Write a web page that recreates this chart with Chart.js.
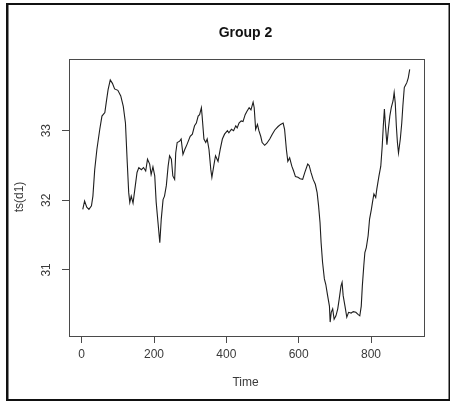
<!DOCTYPE html>
<html>
<head>
<meta charset="utf-8">
<script src="https://cdn.jsdelivr.net/npm/chart.js@4/dist/chart.umd.min.js"></script>
<style>
  html, body { margin: 0; padding: 0; background: #fff; }
  canvas { display: block; }
</style>
</head>
<body>
<canvas id="c" width="450" height="402"></canvas>
<script>
// ---- data ----
const chartTitle = "Group 2";
const xTitle = "Time";
const yTitle = "ts(d1)";
const xTicks = [0, 200, 400, 600, 800];
const yTicks = [31, 32, 33];
const times = [
  3, 8, 14, 20, 27, 31, 36, 42, 50, 56, 64, 68, 73, 79, 85, 91, 100, 108, 115, 121,
  126, 130, 133, 137, 142, 147, 153, 158, 165, 171, 177, 182, 188, 192, 197, 202, 206, 211, 216, 220,
  225, 229, 234, 239, 243, 248, 252, 257, 260, 264, 271, 275, 280, 285, 291, 300, 306, 312, 317, 322,
  326, 331, 333, 338, 343, 347, 352, 357, 360, 366, 370, 377, 383, 389, 395, 403, 407, 414, 420, 426,
  430, 435, 441, 446, 452, 457, 463, 468, 474, 477, 481, 486, 490, 495, 499, 506, 512, 520, 527, 534,
  543, 550, 557, 561, 566, 570, 575, 581, 586, 591, 598, 604, 611, 617, 625, 629, 634, 640, 646, 651,
  655, 659, 662, 666, 671, 675, 680, 685, 687, 690, 694, 698, 703, 708, 712, 717, 720, 723, 728, 733,
  738, 745, 751, 758, 764, 769, 773, 776, 780, 783, 787, 792, 796, 801, 804, 808, 813, 816, 822, 827,
  831, 834, 837, 840, 844, 848, 852, 856, 861, 864, 867, 870, 873, 876, 881, 885, 888, 892, 896, 899,
  903, 907
];
const values = [
  31.87, 31.99, 31.90, 31.87, 31.92, 32.06, 32.44, 32.73, 33.02, 33.21, 33.26, 33.41, 33.59, 33.73, 33.68, 33.60, 33.58, 33.50, 33.35, 33.11,
  32.54, 32.11, 31.97, 32.06, 31.96, 32.16, 32.40, 32.47, 32.44, 32.47, 32.42, 32.59, 32.52, 32.37, 32.48, 32.35, 31.97, 31.68, 31.39, 31.73,
  32.01, 32.06, 32.21, 32.49, 32.64, 32.59, 32.35, 32.30, 32.68, 32.83, 32.85, 32.88, 32.66, 32.73, 32.80, 32.92, 32.95, 33.07, 33.11, 33.21,
  33.23, 33.33, 33.21, 32.88, 32.83, 32.88, 32.73, 32.44, 32.33, 32.52, 32.64, 32.56, 32.73, 32.88, 32.95, 33.00, 32.97, 33.02, 33.00, 33.07,
  33.04, 33.11, 33.14, 33.13, 33.23, 33.28, 33.33, 33.30, 33.41, 33.33, 33.02, 33.09, 33.00, 32.92, 32.83, 32.79, 32.82, 32.88, 32.95, 33.01,
  33.06, 33.09, 33.11, 33.02, 32.73, 32.56, 32.61, 32.49, 32.42, 32.34, 32.33, 32.31, 32.30, 32.40, 32.52, 32.50, 32.40, 32.30, 32.23, 32.11,
  31.92, 31.68, 31.39, 31.11, 30.87, 30.79, 30.63, 30.48, 30.25, 30.39, 30.44, 30.29, 30.34, 30.44, 30.58, 30.77, 30.82, 30.63, 30.48, 30.32,
  30.39, 30.38, 30.40, 30.39, 30.36, 30.34, 30.48, 30.77, 31.06, 31.25, 31.32, 31.49, 31.73, 31.87, 31.97, 32.09, 32.04, 32.16, 32.35, 32.49,
  32.78, 33.07, 33.31, 33.07, 32.80, 33.02, 33.21, 33.33, 33.43, 33.55, 33.40, 33.07, 32.83, 32.68, 32.88, 33.11, 33.35, 33.62, 33.66, 33.69,
  33.76, 33.88
];

const points = times.map((t, i) => ({ x: t, y: values[i] }));

const FONT = "'Liberation Sans', Arial, Helvetica, sans-serif";

const decorPlugin = {
  id: 'decor',
  beforeDraw(chart) {
    const ctx = chart.ctx;
    ctx.save();
    ctx.fillStyle = '#ffffff';
    ctx.fillRect(0, 0, chart.width, chart.height);
    ctx.restore();
  },
  afterDraw(chart) {
    const ctx = chart.ctx;
    const a = chart.chartArea;
    const ys = chart.scales.y;
    ctx.save();
    // plot box
    ctx.strokeStyle = '#4a4a4a';
    ctx.lineWidth = 1;
    ctx.strokeRect(Math.round(a.left) + 0.5, Math.round(a.top) + 0.5,
                   Math.round(a.right - a.left), Math.round(a.bottom - a.top));
    // outer frame
    ctx.fillStyle = '#111';
    ctx.fillRect(6, 3, 2.5, 398);     // left
    ctx.fillRect(6, 3, 444, 2);       // top
    ctx.fillRect(6, 399, 444, 2);     // bottom
    ctx.fillRect(448.5, 3, 1.5, 398); // right
    // title
    ctx.fillStyle = '#111';
    ctx.font = 'bold 14px ' + FONT;
    ctx.textAlign = 'center';
    ctx.textBaseline = 'middle';
    ctx.fillText(chartTitle, (a.left + a.right) / 2 - 1, 33);
    // x axis title
    ctx.fillStyle = '#3a3a3a';
    ctx.font = '12px ' + FONT;
    ctx.fillText(xTitle, (a.left + a.right) / 2 - 1, 383);
    // y tick labels (rotated, R style)
    yTicks.forEach(v => {
      const py = ys.getPixelForValue(v);
      ctx.save();
      ctx.translate(47, py);
      ctx.rotate(-Math.PI / 2);
      ctx.fillText(String(v), 0, 0);
      ctx.restore();
    });
    // y axis title
    ctx.save();
    ctx.translate(20, (a.top + a.bottom) / 2 - 0.5);
    ctx.rotate(-Math.PI / 2);
    ctx.fillText(yTitle, 0, 0);
    ctx.restore();
    ctx.restore();
  }
};

new Chart(document.getElementById('c'), {
  type: 'line',
  data: {
    datasets: [{
      data: points,
      borderColor: '#1e1e1e',
      borderWidth: 1.1,
      pointRadius: 0,
      tension: 0,
      fill: false
    }]
  },
  options: {
    responsive: false,
    animation: false,
    devicePixelRatio: 1,
    layout: { padding: { left: 0, right: 26, top: 59, bottom: 0 } },
    plugins: {
      legend: { display: false },
      tooltip: { enabled: false },
      title: { display: false }
    },
    scales: {
      x: {
        type: 'linear',
        min: -35.1,
        max: 946.5,
        afterBuildTicks: s => { s.ticks = xTicks.map(v => ({ value: v })); },
        afterFit: s => { s.height = 66; },
        border: { display: false },
        grid: {
          display: true,
          drawOnChartArea: false,
          drawTicks: true,
          tickLength: 7,
          tickColor: '#4a4a4a',
          color: '#4a4a4a',
          lineWidth: 1
        },
        ticks: {
          color: '#3a3a3a',
          font: { family: FONT, size: 12 },
          padding: 4,
          maxRotation: 0,
          autoSkip: false
        }
      },
      y: {
        type: 'linear',
        min: 30.05,
        max: 34.03,
        afterBuildTicks: s => { s.ticks = yTicks.map(v => ({ value: v })); },
        afterFit: s => { s.width = 69; },
        border: { display: false },
        grid: {
          display: true,
          drawOnChartArea: false,
          drawTicks: true,
          tickLength: 7,
          tickColor: '#4a4a4a',
          color: '#4a4a4a',
          lineWidth: 1
        },
        ticks: { display: false }
      }
    }
  },
  plugins: [decorPlugin]
});
</script>
</body>
</html>
